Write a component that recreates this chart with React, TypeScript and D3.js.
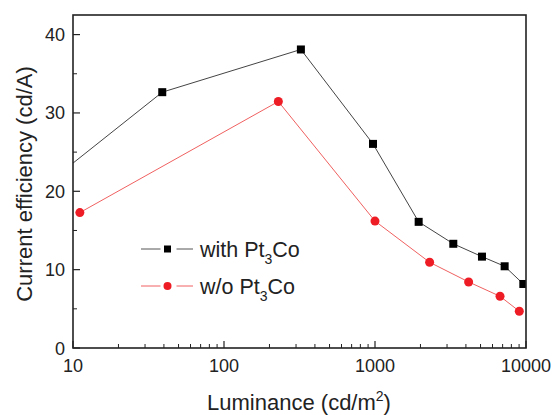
import React from "react";
import * as d3 from "d3";

const withLum = [6, 39, 323, 970, 1946, 3300, 5110, 7220, 9600];
const withEff = [20.2, 32.65, 38.1, 26.05, 16.1, 13.3, 11.66, 10.43, 8.17];
const woLum = [11.1, 229, 1000, 2300, 4170, 6730, 9030];
const woEff = [17.28, 31.46, 16.2, 10.94, 8.43, 6.6, 4.69];
const xTicks = [10, 100, 1000, 10000];
const yTicks = [0, 10, 20, 30, 40];

const W = 554, H = 415;
const M = { left: 73, right: 526, top: 15, bottom: 348 };
const FONT = "'Liberation Sans', Arial, sans-serif";

export default function App() {
  const x = d3.scaleLog().domain([10, 10000]).range([M.left, M.right]);
  const y = d3.scaleLinear().domain([0, 42.5]).range([M.bottom, M.top]);
  const withData = withLum.map((l, i) => [l, withEff[i]] as [number, number]);
  const woData = woLum.map((l, i) => [l, woEff[i]] as [number, number]);
  const line = d3.line<[number, number]>().x(d => x(d[0])).y(d => y(d[1]));
  const minorX: number[] = [];
  for (let dec = 10; dec < 10000; dec *= 10) for (let k = 2; k <= 9; k++) minorX.push(dec * k);
  const minorY = [5, 15, 25, 35];
  const inside = (l: number) => l >= 10 && l <= 10000;

  const lx1 = 141, lx2 = 193, lmid = 167.5, legendText = 200;
  const legendRows = [
    { yy: 249, color: "#555", markColor: "#000", type: "square", label: "with Pt" },
    { yy: 286, color: "#f06060", markColor: "#ee1c25", type: "circle", label: "w/o Pt" },
  ];

  return (
    <svg width={W} height={H} style={{ position: "fixed", left: 0, top: 0, background: "#fff" }} fontFamily={FONT}>
      <defs>
        <clipPath id="plotclip">
          <rect x={M.left} y={M.top} width={M.right - M.left} height={M.bottom - M.top} />
        </clipPath>
      </defs>
      <g clipPath="url(#plotclip)">
        <path d={line(withData) || ""} fill="none" stroke="#444" strokeWidth={1} />
        <path d={line(woData) || ""} fill="none" stroke="#f06060" strokeWidth={1} />
        {withData.filter(d => inside(d[0])).map((d, i) => (
          <rect key={"s" + i} x={x(d[0]) - 4} y={y(d[1]) - 4} width={8} height={8} fill="#000" />
        ))}
        {woData.filter(d => inside(d[0])).map((d, i) => (
          <circle key={"c" + i} cx={x(d[0])} cy={y(d[1])} r={4.5} fill="#ee1c25" />
        ))}
      </g>
      <rect x={M.left} y={M.top} width={M.right - M.left} height={M.bottom - M.top} fill="none" stroke="#222" strokeWidth={1.6} />
      {xTicks.map(t => (
        <g key={"xt" + t}>
          <line x1={x(t)} x2={x(t)} y1={M.bottom} y2={M.bottom - 7} stroke="#222" strokeWidth={1.2} />
          <text x={x(t)} y={372} textAnchor="middle" fontSize={18} fill="#222">{t}</text>
        </g>
      ))}
      {minorX.map(t => (
        <line key={"xm" + t} x1={x(t)} x2={x(t)} y1={M.bottom} y2={M.bottom - 4} stroke="#222" strokeWidth={1} />
      ))}
      {yTicks.map(t => (
        <g key={"yt" + t}>
          <line x1={M.left} x2={M.left + 7} y1={y(t)} y2={y(t)} stroke="#222" strokeWidth={1.2} />
          <text x={65} y={y(t) + 6.5} textAnchor="end" fontSize={18} fill="#222">{t}</text>
        </g>
      ))}
      {minorY.map(t => (
        <line key={"ym" + t} x1={M.left} x2={M.left + 4} y1={y(t)} y2={y(t)} stroke="#222" strokeWidth={1} />
      ))}
      <text x={299} y={410} textAnchor="middle" fontSize={22} fill="#222">
        Luminance (cd/m<tspan dy={-9} fontSize={14}>2</tspan><tspan dy={9}>)</tspan>
      </text>
      <text transform={`translate(32, 184) rotate(-90)`} textAnchor="middle" fontSize={22} fill="#222">
        Current efficiency (cd/A)
      </text>
      {legendRows.map((r, i) => (
        <g key={"lg" + i}>
          <line x1={lx1} x2={lmid - 7} y1={r.yy} y2={r.yy} stroke={r.color} strokeWidth={1} />
          <line x1={lmid + 9} x2={lx2} y1={r.yy} y2={r.yy} stroke={r.color} strokeWidth={1} />
          {r.type === "square" ? (
            <rect x={lmid - 3.5} y={r.yy - 3.5} width={7} height={7} fill={r.markColor} />
          ) : (
            <circle cx={lmid} cy={r.yy} r={4} fill={r.markColor} />
          )}
          <text x={legendText} y={r.yy + 8} fontSize={21.5} fill="#222">
            {r.label}<tspan dy={7} fontSize={14}>3</tspan><tspan dy={-7}>Co</tspan>
          </text>
        </g>
      ))}
    </svg>
  );
}
